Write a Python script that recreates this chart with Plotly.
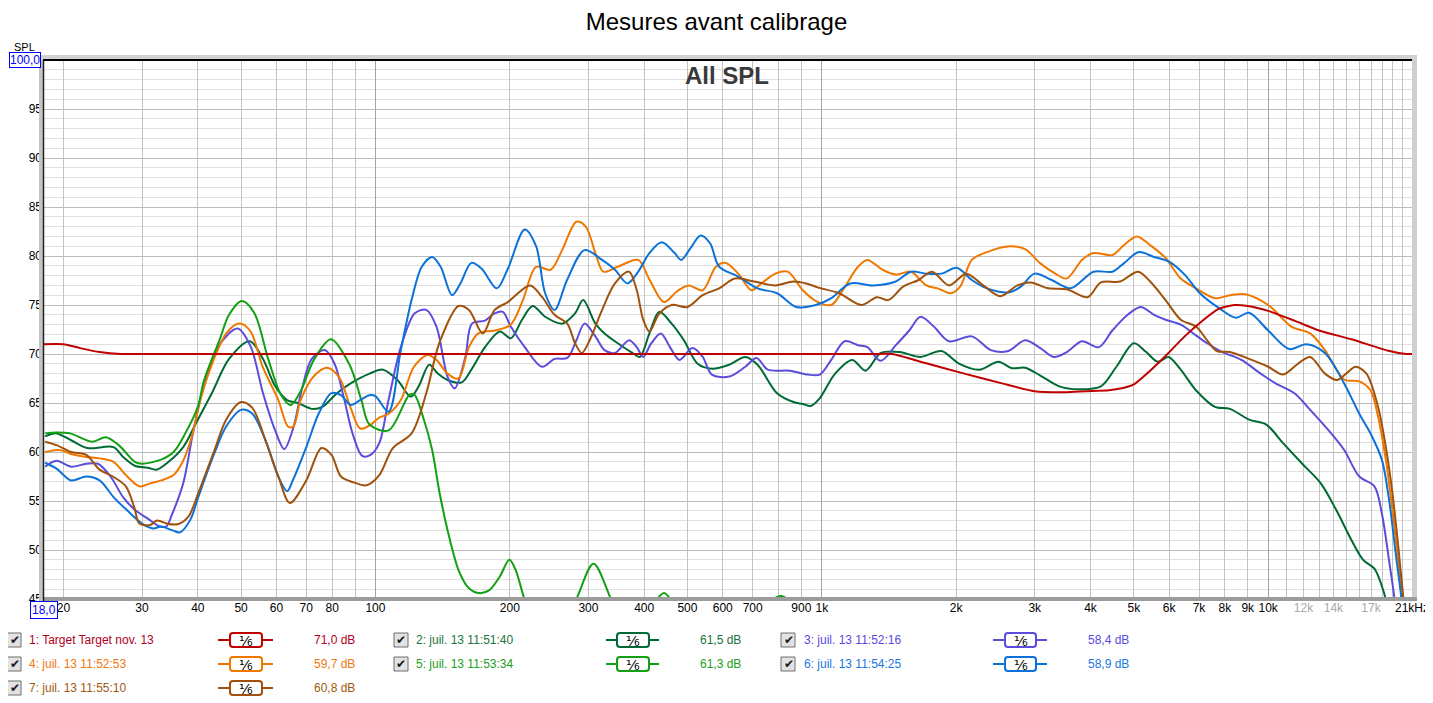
import math
import plotly.graph_objects as go

# ---------------- data ----------------
f_target = [18, 20, 21.8, 24.1, 26.9, 30, 100, 1000, 1300, 1437, 1714, 2086, 2534, 2995, 3500, 3900, 4400, 4700,
            5000, 5440, 5950, 6500, 7170, 7750, 8400, 9000, 10000, 11450, 13000, 15370, 18700, 20400, 21000]
db_target = [71.0, 71.0, 70.6, 70.2, 70.0, 70.0, 70.0, 70.0, 70.0, 70.0, 69.05, 68.0, 67.0, 66.2, 66.1, 66.2, 66.3, 66.5,
             66.9, 68.3, 70.0, 71.8, 73.5, 74.6, 75.0, 74.9, 74.4, 73.4, 72.4, 71.5, 70.3, 70.0, 70.0]

f_m2 = [18.2, 19.3, 20.8, 22.6, 25.9, 27.2, 28.9, 30.9, 32.3, 34.4, 37.1, 39.6, 43.0, 47.0, 52.3, 56.0, 59.5, 63.4,
        67.0, 72.0, 76.0, 82.0, 88.0, 97, 104, 112, 120, 125, 132, 138, 145, 156, 164, 176, 190, 201, 213, 225, 240,
        262, 280, 292, 311, 326, 349, 377, 391, 411, 432, 461, 491, 527, 567, 620, 674, 718, 794, 864, 907, 945, 990,
        1071, 1170, 1253, 1355, 1494, 1664, 1854, 2024, 2254, 2486, 2664, 2854, 3087, 3405, 3755, 4220, 4570, 5000,
        5330, 5660, 5980, 6370, 6890, 7600, 8210, 9060, 9900, 10800, 11920, 13120, 14200, 15370, 16320, 17300, 17980,
        18350, 19000, 21000]
db_m2 = [61.6, 61.9, 61.2, 60.4, 60.5, 59.5, 58.6, 58.4, 58.2, 59.0, 60.5, 62.9, 66.0, 69.5, 71.3, 69.5, 66.8, 65.3,
         65.0, 64.4, 64.6, 66.0, 67.0, 68.0, 68.4, 67.35, 65.65, 66.7, 68.9, 68.0, 67.35, 67.1, 68.4, 70.7, 72.3, 71.6,
         73.5, 74.9, 73.8, 73.1, 74.15, 75.5, 73.1, 72.1, 71.1, 70.1, 69.7, 72.1, 74.3, 73.1, 71.4, 69.0, 68.5, 68.9,
         69.7, 68.9, 66.0, 65.1, 64.9, 64.7, 65.5, 68.0, 69.4, 68.3, 70.1, 70.2, 69.7, 70.3, 69.05, 68.4, 69.2, 68.55,
         68.6, 67.8, 66.7, 66.4, 66.7, 68.7, 71.1, 70.2, 69.2, 69.7, 68.4, 66.3, 64.6, 64.4, 63.3, 62.8, 60.9, 58.8,
         56.8, 54.1, 51.0, 49.0, 48.1, 46.3, 44.9, 40.0, 35.0]

f_m3 = [18.2, 19.3, 20.8, 22.5, 23.9, 25.5, 27.2, 28.9, 30.9, 32.9, 34.0, 35.0, 37.1, 39.0, 41.0, 44.5, 49.1, 52.5,
        56.0, 59.5, 62.5, 65.5, 68.5, 72.0, 77.0, 81.0, 85.0, 89.0, 93.4, 97.5, 102, 107, 114, 122.5, 130, 137, 145,
        150.5, 159, 164.5, 176, 185, 193, 201, 216, 236, 252, 269, 282, 294, 311, 326, 344, 370, 385, 398, 415, 436,
        457, 480, 513, 541, 567, 620, 674, 714, 757, 848, 930, 990, 1050, 1125, 1205, 1265, 1355, 1465, 1570, 1664,
        1782, 1928, 2168, 2391, 2614, 2854, 3087, 3306, 3540, 3827, 4175, 4476, 4845, 5180, 5550, 5890, 6370, 6890,
        7300, 7900, 8710, 9620, 10390, 11450, 12420, 13660, 14800, 16000, 17300, 17980, 18700, 19200, 19800, 21000]
db_m3 = [58.5, 59.1, 58.5, 58.8, 58.8, 57.5, 55.4, 54.1, 53.2, 52.4, 52.4, 53.6, 56.8, 61.9, 66.3, 70.8, 72.6, 70.8,
         66.0, 62.3, 60.3, 62.5, 66.5, 69.5, 70.4, 69.0, 65.5, 61.8, 59.6, 59.7, 60.9, 65.3, 70.7, 74.15, 74.5, 72.8,
         67.7, 66.5, 69.7, 73.1, 73.4, 74.15, 74.3, 72.8, 70.7, 68.7, 69.5, 69.6, 71.4, 73.1, 71.8, 70.4, 70.1, 71.4,
         70.7, 69.7, 71.1, 72.1, 70.7, 69.4, 70.6, 69.7, 67.9, 67.7, 68.7, 69.6, 68.4, 68.3, 67.9, 67.9, 69.4, 71.3,
         70.9, 70.7, 69.3, 70.9, 72.4, 73.8, 72.8, 71.3, 71.8, 70.4, 70.3, 71.4, 70.6, 69.7, 70.2, 71.3, 70.7, 72.4,
         74.0, 74.8, 74.0, 73.5, 73.0, 71.9, 71.1, 70.2, 69.4, 68.0, 67.0, 66.0, 64.3, 62.2, 60.2, 57.5, 56.5, 53.7,
         48.6, 44.9, 38.0, 30.0]

f_m4 = [18.2, 19.6, 20.8, 22.5, 24.1, 25.9, 27.6, 29.6, 31.3, 33.1, 35.3, 37.0, 38.8, 40.7, 43.5, 46.5, 49.6, 52.5,
        56.0, 60.6, 63.7, 65.5, 68.0, 73.0, 78.0, 83.0, 88.0, 92.4, 97.0, 102, 107, 114, 122, 131, 137, 145, 153.5,
        162, 170, 185, 201, 214, 229, 247, 262, 282, 296, 311, 324, 349, 388, 411, 443, 474, 503, 541, 579, 608, 650,
        696, 732, 787, 839, 907, 970, 1050, 1114, 1205, 1265, 1368, 1465, 1584, 1714, 1817, 1947, 2043, 2168, 2344,
        2636, 2854, 3087, 3337, 3540, 3827, 4062, 4476, 4749, 5080, 5440, 5890, 6370, 6890, 7600, 8210, 8890, 10000,
        11270, 12420, 13400, 14800, 16000, 16950, 17630, 18350, 19100, 19700, 20100, 20600, 21000]
db_m4 = [60.0, 60.2, 59.8, 59.5, 59.35, 59.0, 57.65, 56.5, 56.8, 57.1, 57.65, 59.0, 61.6, 65.6, 69.5, 72.2, 73.1, 72.3,
         68.6, 65.3, 62.6, 62.6, 65.3, 67.8, 68.6, 67.6, 64.5, 62.4, 62.7, 63.5, 63.9, 65.3, 68.7, 69.9, 69.4, 68.0,
         67.5, 70.7, 72.1, 72.4, 73.0, 75.5, 78.9, 78.6, 80.6, 83.5, 83.0, 80.3, 78.4, 78.9, 79.6, 77.6, 75.3, 76.4,
         77.0, 76.5, 78.9, 79.3, 78.2, 76.5, 77.2, 78.2, 78.4, 76.5, 75.4, 75.0, 76.5, 78.9, 79.6, 78.6, 78.1, 78.4,
         77.0, 76.7, 76.2, 76.9, 79.6, 80.4, 81.0, 80.7, 79.25, 78.2, 77.7, 79.6, 80.3, 80.1, 81.1, 82.0, 81.1, 79.8,
         77.7, 76.7, 75.7, 76.0, 76.1, 75.0, 72.8, 72.1, 70.4, 67.4, 67.2, 66.3, 63.6, 59.2, 53.1, 47.7, 44.9, 40.0,
         36.0]

f_m5 = [18.2, 19.3, 20.7, 23.2, 24.9, 26.6, 28.9, 30.0, 33.2, 35.3, 37.5, 40.0, 41.3, 44.8, 47.0, 50.2, 53.5, 57.6,
        61.5, 64.6, 68.0, 72.8, 79.5, 87.5, 93.0, 97.0, 107, 119, 122, 128, 134, 139, 146, 154, 162, 171, 180, 190,
        199.5, 206, 214, 225, 250, 282, 308, 337, 370, 420, 443, 465, 500, 650, 760, 812, 860, 900, 21000]
db_m5 = [61.9, 62.0, 61.9, 61.05, 61.5, 60.7, 59.0, 58.8, 59.25, 60.0, 61.9, 64.6, 67.3, 71.5, 74.0, 75.4, 74.2, 69.4,
         65.8, 64.8, 66.2, 69.4, 71.5, 68.9, 65.3, 62.8, 62.2, 65.8, 65.9, 63.5, 60.2, 56.0, 51.5, 47.8, 46.1, 45.6,
         45.9, 47.3, 49.0, 48.0, 45.5, 42.5, 40.0, 45.0, 48.6, 45.0, 41.0, 44.5, 45.6, 44.5, 41.0, 40.0, 44.6, 45.3,
         44.3, 40.0, 30.0]

f_m6 = [18.2, 19.3, 20.8, 22.5, 24.1, 25.9, 27.7, 30.0, 31.8, 33.1, 35.1, 36.5, 38.5, 40.1, 43.6, 46.3, 50.0, 53.0,
        56.7, 60.6, 63.4, 65.3, 70.0, 74.6, 79.7, 83.7, 88.0, 92.4, 97, 100, 107, 114, 120.5, 127, 134, 140, 148.5,
        155, 164, 173, 187, 198, 216, 229, 240, 252, 269, 294, 322, 344, 367, 388, 411, 438, 468, 484, 508, 535, 562,
        589, 650, 718, 794, 877, 970, 1050, 1158, 1303, 1465, 1584, 1714, 1854, 2006, 2168, 2344, 2636, 2797, 2995,
        3273, 3609, 4062, 4476, 4749, 5130, 5550, 6010, 6500, 7030, 7750, 8460, 9060, 10000, 11150, 12180, 13400,
        14800, 16000, 16950, 17980, 18700, 19300, 19900, 20500, 21000]
db_m6 = [58.9, 58.3, 57.1, 57.5, 57.1, 55.4, 54.1, 52.7, 52.2, 52.4, 52.0, 51.8, 53.1, 55.4, 59.9, 62.6, 64.3, 63.9,
         61.2, 57.5, 56.0, 57.1, 60.5, 63.9, 66.0, 65.8, 64.8, 65.3, 65.8, 65.7, 64.1, 70.4, 75.5, 78.9, 79.9, 78.9,
         76.0, 77.2, 79.3, 78.7, 76.7, 78.7, 82.7, 81.0, 76.2, 74.5, 77.6, 80.6, 79.6, 78.6, 77.2, 78.4, 80.3, 81.4,
         80.3, 79.6, 80.8, 82.1, 81.3, 78.9, 77.9, 76.7, 76.2, 74.8, 75.0, 75.7, 77.2, 77.0, 77.4, 78.4, 78.2, 78.2,
         78.8, 77.55, 76.7, 76.3, 76.9, 78.2, 77.55, 76.7, 78.4, 78.4, 79.25, 80.4, 79.9, 79.4, 78.1, 76.2, 74.7, 73.7,
         74.2, 72.4, 70.5, 71.0, 70.1, 67.0, 63.9, 61.9, 59.2, 54.8, 49.7, 44.9, 38.0, 32.0]

f_m7 = [18.2, 19.3, 20.8, 22.5, 24.1, 25.8, 27.6, 28.8, 29.6, 31.3, 32.4, 34.4, 36.2, 38.1, 40.1, 43.6, 46.3, 50.0,
        53.0, 56.7, 60.6, 64.3, 70.0, 75.7, 79.7, 83.7, 89.4, 95.5, 102, 109.4, 120.5, 130, 139, 153.5, 162, 174, 185,
        198, 222, 236, 252, 269, 280, 290, 302, 322, 344, 370, 385, 398, 411, 432, 461, 500, 541, 589, 639, 705, 787,
        864, 923, 978, 1093, 1228, 1329, 1409, 1524, 1648, 1766, 1928, 2106, 2300, 2510, 2743, 2936, 3209, 3540, 3940,
        4220, 4660, 5110, 5440, 5890, 6370, 6890, 7300, 7670, 8210, 9060, 10000, 10800, 11690, 12420, 13400, 14250,
        14950, 15700, 16600, 17630, 18350, 18900, 19500, 20100, 20600, 21000]
db_m7 = [61.05, 60.7, 60.0, 59.7, 58.2, 57.5, 56.5, 54.4, 52.7, 52.55, 53.0, 52.65, 52.65, 53.4, 55.8, 60.2, 63.3,
         65.1, 64.5, 61.2, 57.5, 54.8, 57.1, 60.4, 59.7, 57.5, 56.9, 56.6, 57.65, 60.4, 61.9, 66.0, 71.1, 74.9, 74.5,
         72.1, 74.5, 75.3, 77.0, 75.85, 74.0, 73.1, 71.1, 70.1, 71.4, 74.5, 77.2, 78.4, 76.5, 73.5, 72.3, 74.1, 75.0,
         74.8, 76.0, 76.7, 77.7, 77.4, 77.0, 77.4, 77.2, 76.8, 76.2, 75.0, 75.8, 75.5, 76.9, 77.55, 78.4, 77.0, 78.2,
         77.0, 75.9, 77.0, 77.3, 76.7, 76.6, 75.8, 77.3, 77.4, 78.4, 77.4, 75.5, 73.5, 72.8, 71.4, 70.3, 70.2, 69.5,
         68.7, 67.9, 69.05, 69.7, 68.0, 67.35, 68.0, 68.7, 68.0, 64.6, 60.5, 56.5, 51.0, 44.9, 40.0, 36.0]

legend_labels = ["1: Target Target nov. 13", "2: juil. 13 11:51:40", "3: juil. 13 11:52:16",
                 "4: juil. 13 11:52:53", "5: juil. 13 11:53:34", "6: juil. 13 11:54:25", "7: juil. 13 11:55:10"]
legend_levels = ["71,0 dB", "61,5 dB", "58,4 dB", "59,7 dB", "61,3 dB", "58,9 dB", "60,8 dB"]
smoothing_text = "¹⁄₆"

grid_ticks = [20, 30, 40, 50, 60, 70, 80, 90, 200, 300, 400, 500, 600, 700, 800, 900,
              2000, 3000, 4000, 5000, 6000, 7000, 8000, 9000,
              11000, 12000, 13000, 14000, 15000, 16000, 17000, 18000, 19000, 20000, 21000]
grid_labels = ["20", "30", "40", "50", "60", "70", "80", "", "200", "300", "400", "500", "600", "700", "", "900",
               "2k", "3k", "4k", "5k", "6k", "7k", "8k", "9k",
               "", "<span style='color:#a8a8a8'>12k</span>", "", "<span style='color:#a8a8a8'>14k</span>", "", "",
               "<span style='color:#a8a8a8'>17k</span>", "", "", "", "21kHz"]
decade_ticks = [100, 1000, 10000]
decade_labels = ["100", "1k", "10k"]
y_ticks = [45, 50, 55, 60, 65, 70, 75, 80, 85, 90, 95]

# ---------------- styles ----------------
colors = ["#c00000", "#006a35", "#5b4ddb", "#f07800", "#12a012", "#0a72d8", "#a0520c"]
text_colors = ["#b00020", "#1a7440", "#5a4ae0", "#f07810", "#20a020", "#1a78e0", "#a05a10"]
FONT = "Liberation Sans, Arial, sans-serif"

# the page body adds an 8px margin: lay the figure out in screen pixels minus that offset
OFF = 8
SW, SH = 1433, 703
W, H = SW - OFF, SH - OFF
L, R, T, B = 43, 1412, 60, 599  # plot area in screen pixels


def px(x):
    return (x - L) / (R - L)


def py(y):
    return (B - y) / (B - T)


fig = go.Figure()
curves = [(f_m2, db_m2), (f_m3, db_m3), (f_m4, db_m4), (f_m5, db_m5), (f_m6, db_m6), (f_m7, db_m7)]
for i, (fx, dy) in enumerate(curves, start=1):
    fig.add_trace(go.Scatter(x=fx, y=dy, mode="lines",
                             line=dict(color=colors[i], width=2, shape="spline", smoothing=0.9),
                             showlegend=False, hoverinfo="skip"))
fig.add_trace(go.Scatter(x=f_target, y=db_target, mode="lines", xaxis="x2",
                         line=dict(color=colors[0], width=2, shape="spline", smoothing=0.6),
                         showlegend=False, hoverinfo="skip"))

xr = [math.log10(18), math.log10(21000)]
tickfont = dict(family=FONT, size=12, color="#000000")

fig.update_layout(
    width=W, height=H, autosize=False, showlegend=False,
    margin=dict(l=L - OFF, r=W - (R - OFF), t=T - OFF, b=H - (B - OFF), pad=0, autoexpand=False),
    paper_bgcolor="white", plot_bgcolor="white",
    title=dict(text="Mesures avant calibrage", x=(716.5 - OFF) / W, xref="container", xanchor="center",
               y=1 - (22 - OFF) / H, yref="container", yanchor="middle", automargin=False,
               font=dict(family=FONT, size=24, color="#000000")),
    xaxis=dict(type="log", range=xr, tickmode="array", tickvals=grid_ticks, ticktext=grid_labels,
               showgrid=True, gridcolor="#c4c4c4", gridwidth=1, zeroline=False, showline=False,
               ticks="", tickfont=tickfont, fixedrange=True, automargin=False),
    xaxis2=dict(type="log", range=xr, overlaying="x", anchor="y", side="bottom", tickmode="array",
                tickvals=decade_ticks, ticktext=decade_labels, showgrid=True, gridcolor="#a4a4a4",
                gridwidth=1, zeroline=False, showline=False, ticks="", tickfont=tickfont, automargin=False),
    yaxis=dict(range=[45, 100], tickmode="array", tickvals=y_ticks, ticktext=[str(v) for v in y_ticks],
               showgrid=True, gridcolor="#bcbcbc", gridwidth=1, zeroline=False, showline=False,
               ticks="", tickfont=dict(family=FONT, size=12, color="#000000"), automargin=False,
               minor=dict(dtick=1, showgrid=True, gridcolor="#e0e0e0", gridwidth=1)),
)

shapes = []
# frame
shapes.append(dict(type="rect", xref="paper", yref="paper", x0=px(38), x1=px(1417), y0=py(60), y1=py(55),
                   fillcolor="#d2d2d2", line=dict(width=0), layer="above"))
shapes.append(dict(type="rect", xref="paper", yref="paper", x0=px(39), x1=px(43), y0=py(601), y1=py(60),
                   fillcolor="#c4c4c4", line=dict(width=0), layer="above"))
shapes.append(dict(type="rect", xref="paper", yref="paper", x0=px(1412), x1=px(1417), y0=py(601), y1=py(60),
                   fillcolor="#cfcfcf", line=dict(width=0), layer="above"))
shapes.append(dict(type="rect", xref="paper", yref="paper", x0=px(43), x1=px(1417), y0=py(601), y1=py(597),
                   fillcolor="#9c9c9c", line=dict(width=0), layer="above"))
shapes.append(dict(type="line", xref="paper", yref="paper", x0=px(43), x1=px(1412), y0=py(60), y1=py(60),
                   line=dict(color="#000000", width=2), layer="above"))
shapes.append(dict(type="line", xref="paper", yref="paper", x0=px(43.5), x1=px(43.5), y0=py(60), y1=py(601),
                   line=dict(color="#202020", width=1.5), layer="above"))


def ann(text, x, y, size=12, color="#000000", xanchor="center", family=FONT, **kw):
    d = dict(text=text, x=px(x), y=py(y), xref="paper", yref="paper", showarrow=False,
             xanchor=xanchor, yanchor="middle", font=dict(family=family, size=size, color=color))
    d.update(kw)
    return d


annotations = []
annotations.append(ann("<b>All SPL</b>", 727, 75, size=24, color="#3a3a3a"))
annotations.append(ann("SPL", 24, 47, size=11))
annotations.append(ann("100,0", 24.5, 60.5, size=12, color="#0000ff", bordercolor="#0000ff",
                       borderwidth=1, borderpad=0, bgcolor="white"))
annotations.append(ann("18,0", 43.5, 609.5, size=12, color="#0000ff", bordercolor="#0000ff",
                       borderwidth=1, borderpad=1, bgcolor="white"))


def rrect(x0, y0, x1, y1, r):
    return (f"M{px(x0 + r)},{py(y0)} L{px(x1 - r)},{py(y0)} Q{px(x1)},{py(y0)} {px(x1)},{py(y0 + r)} "
            f"L{px(x1)},{py(y1 - r)} Q{px(x1)},{py(y1)} {px(x1 - r)},{py(y1)} "
            f"L{px(x0 + r)},{py(y1)} Q{px(x0)},{py(y1)} {px(x0)},{py(y1 - r)} "
            f"L{px(x0)},{py(y0 + r)} Q{px(x0)},{py(y0)} {px(x0 + r)},{py(y0)} Z")


cols = [dict(cb=14, text=27, wl=218, wr=273, bl=230, br=262, db=357),
        dict(cb=401, text=414, wl=606, wr=659, bl=617, br=649, db=743),
        dict(cb=788, text=802, wl=993, wr=1047, bl=1005, br=1036, db=1131)]
rows = [640, 664, 688]

for k, lab in enumerate(legend_labels):
    r, c = divmod(k, 3)
    cy = rows[r]
    cp = cols[c]
    # checkbox
    shapes.append(dict(type="rect", xref="paper", yref="paper", x0=px(cp["cb"] - 7), x1=px(cp["cb"] + 7),
                       y0=py(cy - 7), y1=py(cy + 7), fillcolor="#e2e2e2", line=dict(color="#6e6e6e", width=1)))
    annotations.append(ann("✔", cp["cb"] + 0.5, cy, size=12, color="#1a1a1a", family="DejaVu Sans"))
    annotations.append(ann(lab, cp["text"], cy, size=12, color=text_colors[k], xanchor="left"))
    # smoothing widget
    shapes.append(dict(type="line", xref="paper", yref="paper", x0=px(cp["wl"]), x1=px(cp["wr"]),
                       y0=py(cy), y1=py(cy), line=dict(color=colors[k], width=2)))
    shapes.append(dict(type="path", xref="paper", yref="paper", path=rrect(cp["bl"], cy - 7, cp["br"], cy + 7, 3),
                       fillcolor="white", line=dict(color=colors[k], width=2)))
    annotations.append(ann(smoothing_text, (cp["bl"] + cp["br"]) / 2, cy + 0.5, size=14, family="DejaVu Sans"))
    annotations.append(ann(legend_levels[k], cp["db"], cy, size=12, color=text_colors[k], xanchor="right"))

fig.update_layout(shapes=shapes, annotations=annotations)
fig.write_html("out.html")
